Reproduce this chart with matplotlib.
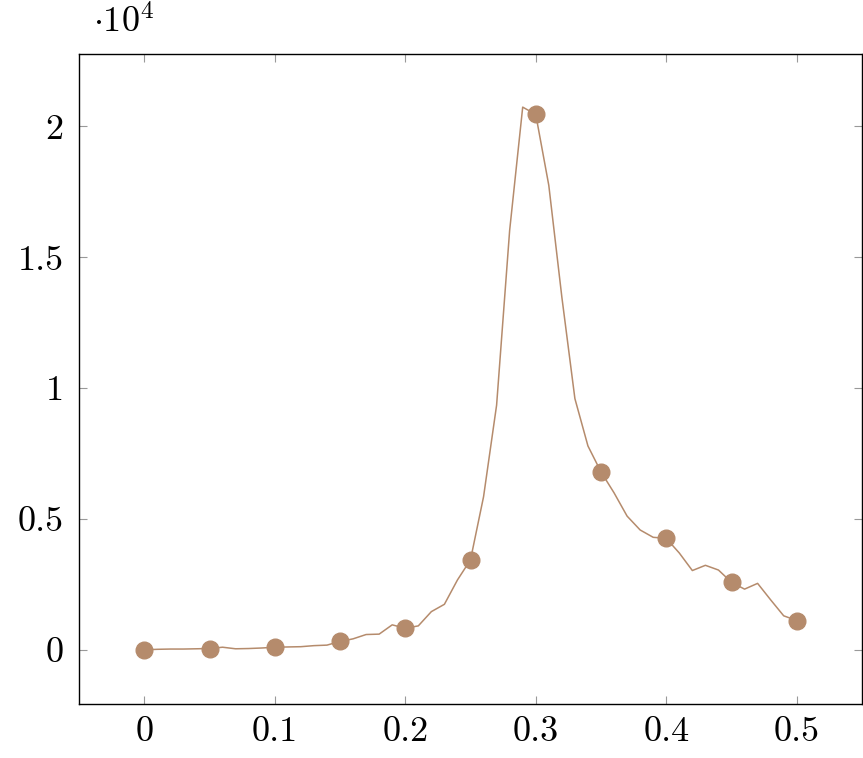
import numpy as np
import matplotlib.pyplot as plt

# x sampled every 0.01, markers every 0.05
x = np.arange(51) / 100
y = [0, 20, 30, 30, 40, 50, 100, 40, 50, 70,
     100, 110, 120, 160, 180, 320, 420, 585, 600, 955,
     825, 915, 1460, 1740, 2670, 3440, 5850, 9350, 16030, 20740,
     20460, 17750, 13480, 9600, 7790, 6800, 6000, 5110, 4580, 4300,
     4260, 3700, 3030, 3230, 3050, 2580, 2320, 2540, 1910, 1300,
     1120]

xticks = [0, 0.1, 0.2, 0.3, 0.4, 0.5]
xlabels = ['0', '0.1', '0.2', '0.3', '0.4', '0.5']
yticks = [0, 5000, 10000, 15000, 20000]
ylabels = ['0', '0.5', '1', '1.5', '2']

plt.rcParams['font.family'] = 'cmr10'
plt.rcParams['mathtext.fontset'] = 'cm'

fig = plt.figure(figsize=(8.63, 7.58), dpi=100)
ax = fig.add_axes([79 / 863, 1 - 704 / 758, 783 / 863, 650 / 758])

ax.plot(x, y, color='#b58b6c', lw=1.1, marker='o', markersize=12,
        markevery=5)

ax.set_xlim(-0.05, 0.55)
ax.set_ylim(-2070, 22770)
ax.set_xticks(xticks)
ax.set_xticklabels(xlabels)
ax.set_yticks(yticks)
ax.set_yticklabels(ylabels)
ax.tick_params(direction='in', length=6, width=0.8, color='#999999',
               top=True, right=True, labelsize=26)
ax.tick_params(axis='y', pad=11)
ax.tick_params(axis='x', pad=9)
for s in ax.spines.values():
    s.set_linewidth(1.0)

fig.text(93 / 863, 1 - 22 / 758, r'$\cdot 10^4$', fontsize=26,
         va='center', ha='left')

fig.savefig('out.png', dpi=100)
